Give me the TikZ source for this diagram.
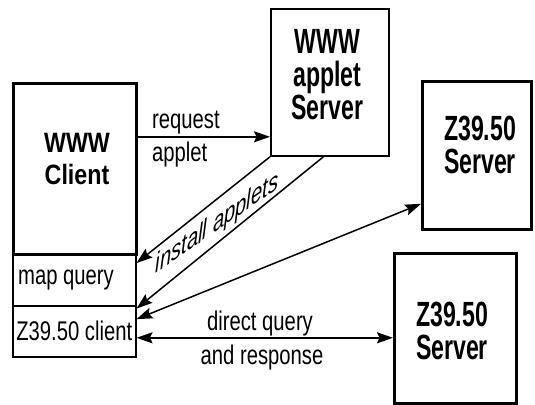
\documentclass[tikz,border=0pt]{standalone}
\usepackage{fontspec}
\setmainfont{Liberation Sans}
% condensed cuts of the same sans for labels and box titles
\newfontfamily\lblfont{Liberation Sans}[FakeStretch=0.75]
\newfontfamily\srvfont{Liberation Sans}[FakeStretch=0.66]
\newfontfamily\clifont{Liberation Sans}[FakeStretch=0.83]
\usetikzlibrary{arrows.meta}

\tikzset{
  x=1pt, y=-1pt,
  heavybox/.style={draw, line width=2.6pt, inner sep=0pt, anchor=north west},
  rowbox/.style={draw, line width=1.5pt, inner sep=0pt, anchor=north west,
    minimum width=123pt, font=\lblfont\fontsize{27}{30}\selectfont},
  lbl/.style={inner sep=0pt, font=\lblfont\fontsize{27}{30}\selectfont},
  srvlbl/.style={inner sep=0pt, align=center,
    font=\srvfont\bfseries\fontsize{35}{33}\selectfont},
  clilbl/.style={inner sep=0pt, align=center,
    font=\clifont\bfseries\fontsize{28}{32}\selectfont},
  headtip/.tip={Stealth[length=16pt,width=11pt,inset=2.5pt]},
  arr/.style={line width=1.5pt, -{headtip}},
  arrboth/.style={line width=1.5pt, {headtip}-{headtip}},
}

\begin{document}
\begin{tikzpicture}
\useasboundingbox (0,0) rectangle (535,404);

% WWW client with its two sub-modules
\node[heavybox, minimum width=123pt, minimum height=171pt] (client) at (12,82) {};
\node[rowbox, minimum height=52pt] (mapq) at (12,253) {};
\node[lbl, anchor=west] (lmapq) at ([xshift=6pt]mapq.west) {map query};
\node[rowbox, minimum height=51pt] (zcl) at (12,305) {Z39.50 client};
\node[clilbl] (lcli) at (77,159) {WWW\\Client};

% servers
\node[heavybox, line width=1.8pt, minimum width=118pt, minimum height=147pt] (appsrv) at (270,8) {};
\node[srvlbl] (lapp) at (327.5,75) {WWW\\applet\\Server};

\node[heavybox, minimum width=109pt, minimum height=148pt] (zone) at (421,80) {};
\node[srvlbl] (lzone) at (480,145) {Z39.50\\Server};

\node[heavybox, minimum width=122pt, minimum height=150pt] (ztwo) at (393,252) {};
\node[srvlbl] (lztwo) at (452,330.5) {Z39.50\\Server};

% connectors
\draw[arr] (client.27) -- (client.27 -| appsrv.west);
\draw[arr] (appsrv.south west) -- (mapq.15);
\draw[arr] (appsrv.265) -- (zcl.20);
\draw[arrboth] (zcl.11) -- (zone.221);
\draw[arrboth] (zcl.-6) -- (zcl.-6 -| ztwo.west);

% connector labels
\node[lbl, anchor=base west] (treq) at (152,128) {request};
\node[lbl, anchor=base west] (tapp) at (152,161) {applet};
\node[lbl, anchor=base] (tdq) at (260,330) {direct query};
\node[lbl, anchor=base] (tresp) at (262,364) {and response};
\node[lbl, font=\lblfont\itshape\fontsize{27}{30}\selectfont, yslant=0.7, anchor=base] (tinst) at (217,231) {install applets};
\end{tikzpicture}
\end{document}
